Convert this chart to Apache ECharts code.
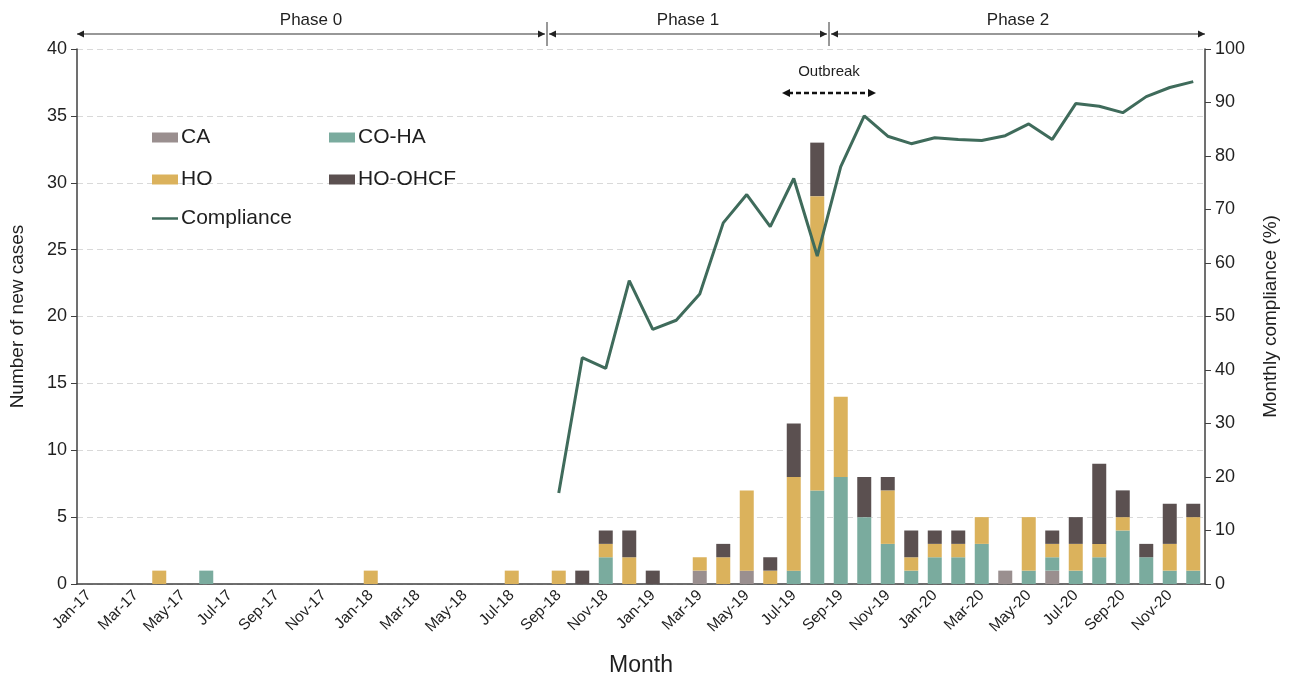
<!DOCTYPE html>
<html>
<head>
<meta charset="utf-8">
<script src="https://cdn.jsdelivr.net/npm/echarts@6/dist/echarts.min.js"></script>
<style>
  html, body { margin: 0; padding: 0; background: #fff; }
  #chart { width: 1292px; height: 677px; }
</style>
</head>
<body>
<div id="chart"></div>
<script>
// months Jan-17 .. Dec-20
const monthNames = ['Jan', 'Feb', 'Mar', 'Apr', 'May', 'Jun', 'Jul', 'Aug', 'Sep', 'Oct', 'Nov', 'Dec']
const years = ['17', '18', '19', '20']
const months = []
years.forEach(y => monthNames.forEach(m => months.push(m + '-' + y)))

// new cases per month, by category
const caCases = [
  0, 0, 0, 0, 0, 0, 0, 0, 0, 0, 0, 0,
  0, 0, 0, 0, 0, 0, 0, 0, 0, 0, 0, 0,
  0, 0, 1, 0, 1, 0, 0, 0, 0, 0, 0, 0,
  0, 0, 0, 1, 0, 1, 0, 0, 0, 0, 0, 0
]
const coHaCases = [
  0, 0, 0, 0, 0, 1, 0, 0, 0, 0, 0, 0,
  0, 0, 0, 0, 0, 0, 0, 0, 0, 0, 2, 0,
  0, 0, 0, 0, 0, 0, 1, 7, 8, 5, 3, 1,
  2, 2, 3, 0, 1, 1, 1, 2, 4, 2, 1, 1
]
const hoCases = [
  0, 0, 0, 1, 0, 0, 0, 0, 0, 0, 0, 0,
  1, 0, 0, 0, 0, 0, 1, 0, 1, 0, 1, 2,
  0, 0, 1, 2, 6, 1, 7, 22, 6, 0, 4, 1,
  1, 1, 2, 0, 4, 1, 2, 1, 1, 0, 2, 4
]
const hoOhcfCases = [
  0, 0, 0, 0, 0, 0, 0, 0, 0, 0, 0, 0,
  0, 0, 0, 0, 0, 0, 0, 0, 0, 1, 1, 2,
  1, 0, 0, 1, 0, 1, 4, 4, 0, 3, 1, 2,
  1, 1, 0, 0, 0, 1, 2, 6, 2, 1, 3, 1
]
// monthly compliance (%), starts Sep-18
const compliance = [
  null, null, null, null, null, null, null, null, null, null, null, null,
  null, null, null, null, null, null, null, null, 17, 42.3, 40.3, 56.7,
  47.6, 49.3, 54.2, 67.5, 72.8, 66.8, 75.8, 61.3, 78, 87.5, 83.7, 82.3,
  83.4, 83.1, 82.9, 83.8, 86, 83.1, 89.8, 89.3, 88.1, 91.1, 92.8, 93.9
]

// phases and outbreak as category boundaries
const phases = [
  { name: 'Phase 0', from: 0, to: 20 },
  { name: 'Phase 1', from: 20, to: 32 },
  { name: 'Phase 2', from: 32, to: 48 }
]
const outbreak = { name: 'Outbreak', from: 30, to: 34 }

const FONT = 'Liberation Sans, Arial, sans-serif'
const TXT = '#1f1f1f'
const AXIS = '#404040'

let myChart = echarts.init(document.getElementById('chart'))

function legendAt(name, left, top, h) {
  return {
    data: [name],
    left: left,
    top: top,
    padding: 0,
    icon: 'rect',
    itemWidth: 26,
    itemHeight: h || 10,
    itemGap: 4,
    textStyle: { fontFamily: FONT, fontSize: 21, color: TXT, padding: [0, 0, 0, -2] }
  }
}

function barSeries(name, data, color) {
  return {
    name: name,
    type: 'bar',
    stack: 'cases',
    barWidth: 14,
    data: data,
    itemStyle: { color: color },
    emphasis: { disabled: true }
  }
}

myChart.setOption({
  animation: false,
  grid: { left: 77, right: 87, top: 49, bottom: 93, outerBoundsMode: 'none' },
  legend: [
    legendAt('CA', 152, 127),
    legendAt('CO-HA', 329, 127),
    legendAt('HO', 152, 169),
    legendAt('HO-OHCF', 329, 169),
    legendAt('Compliance', 152, 208, 2.5)
  ],
  xAxis: {
    type: 'category',
    data: months,
    name: 'Month',
    nameLocation: 'middle',
    nameGap: 70,
    nameTextStyle: { fontFamily: FONT, fontSize: 23, color: TXT },
    axisLine: { lineStyle: { color: AXIS, width: 1.5 } },
    axisTick: { interval: 1, length: 6, lineStyle: { color: AXIS } },
    axisLabel: {
      interval: 1,
      rotate: 45,
      fontFamily: FONT,
      fontSize: 15.5,
      color: TXT,
      margin: 9
    }
  },
  yAxis: [
    {
      type: 'value',
      min: 0,
      max: 40,
      interval: 5,
      name: 'Number of new cases',
      nameLocation: 'middle',
      nameGap: 50,
      nameTextStyle: { fontFamily: FONT, fontSize: 19, color: TXT },
      axisLine: { show: true, lineStyle: { color: AXIS, width: 1.5 } },
      axisTick: { show: true, length: 6, lineStyle: { color: AXIS } },
      axisLabel: { fontFamily: FONT, fontSize: 18, color: TXT, margin: 10 },
      splitLine: { lineStyle: { color: '#d9d9d9', type: [6, 4] } }
    },
    {
      type: 'value',
      min: 0,
      max: 100,
      interval: 10,
      name: 'Monthly compliance (%)',
      nameLocation: 'middle',
      nameGap: 56,
      nameRotate: 90,
      nameTextStyle: { fontFamily: FONT, fontSize: 19, color: TXT },
      axisLine: { show: true, lineStyle: { color: AXIS, width: 1.5 } },
      axisTick: { show: true, length: 6, lineStyle: { color: AXIS } },
      axisLabel: { fontFamily: FONT, fontSize: 18, color: TXT, margin: 10 },
      splitLine: { show: false }
    }
  ],
  series: [
    barSeries('CA', caCases, '#9a8f8f'),
    barSeries('CO-HA', coHaCases, '#7aab9e'),
    barSeries('HO', hoCases, '#dbb25c'),
    barSeries('HO-OHCF', hoOhcfCases, '#5b5050'),
    {
      name: 'Compliance',
      type: 'line',
      yAxisIndex: 1,
      data: compliance,
      symbol: 'none',
      lineStyle: { color: '#3f6b5b', width: 3 },
      itemStyle: { color: '#3f6b5b' },
      emphasis: { disabled: true }
    }
  ]
})

// annotations placed from the category axis
function boundaryPx(i) {
  let c0 = myChart.convertToPixel({ xAxisIndex: 0 }, months[0])
  let c1 = myChart.convertToPixel({ xAxisIndex: 0 }, months[1])
  let step = c1 - c0
  return c0 - step / 2 + step * i
}

function arrowHeads(x1, x2, y, size, color) {
  return [
    { type: 'polygon', shape: { points: [[x1, y], [x1 + size, y - size / 2], [x1 + size, y + size / 2]] }, style: { fill: color } },
    { type: 'polygon', shape: { points: [[x2, y], [x2 - size, y - size / 2], [x2 - size, y + size / 2]] }, style: { fill: color } }
  ]
}

let gfx = []
const phaseY = 34
phases.forEach((p, k) => {
  let x1 = boundaryPx(p.from) + (k === 0 ? 0 : 2)
  let x2 = boundaryPx(p.to) - (k === phases.length - 1 ? 0 : 2)
  gfx.push({ type: 'line', shape: { x1: x1, y1: phaseY, x2: x2, y2: phaseY }, style: { stroke: '#333', lineWidth: 1.2 } })
  gfx = gfx.concat(arrowHeads(x1, x2, phaseY, 7, '#222'))
  gfx.push({
    type: 'text',
    x: (x1 + x2) / 2,
    y: 20,
    style: { text: p.name, font: '17px ' + FONT, fill: TXT, align: 'center', verticalAlign: 'middle' }
  })
  if (k > 0) {
    let bx = boundaryPx(p.from)
    gfx.push({ type: 'line', shape: { x1: bx, y1: 22, x2: bx, y2: 46 }, style: { stroke: '#333', lineWidth: 1 } })
  }
})

let ox1 = boundaryPx(outbreak.from)
let ox2 = boundaryPx(outbreak.to)
gfx.push({ type: 'line', shape: { x1: ox1 + 6, y1: 93, x2: ox2 - 6, y2: 93 }, style: { stroke: '#111', lineWidth: 2.5, lineDash: [5, 3] } })
gfx = gfx.concat(arrowHeads(ox1, ox2, 93, 8, '#111'))
gfx.push({
  type: 'text',
  x: (ox1 + ox2) / 2,
  y: 72,
  style: { text: outbreak.name, font: '15px ' + FONT, fill: TXT, align: 'center', verticalAlign: 'middle' }
})

myChart.setOption({ graphic: gfx })
</script>
</body>
</html>
